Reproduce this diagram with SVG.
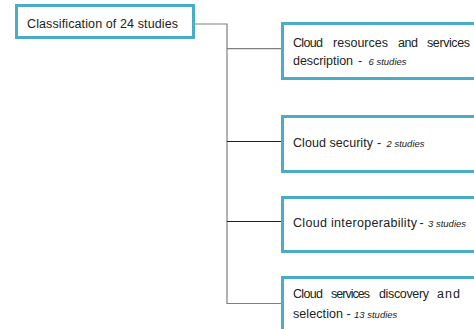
<svg xmlns="http://www.w3.org/2000/svg" width="474" height="329" viewBox="0 0 474 329">
<style>
.box{fill:#fff;stroke:#4BACC6;stroke-width:3}
.t{font-family:"Liberation Sans",Arial,sans-serif;font-size:12.5px;fill:#222}
.i{font-style:italic;font-size:9.5px}
.c{fill:none;stroke:#7f7f7f;stroke-width:1.2}
.d{fill:none;stroke:#222;stroke-width:1}
</style>
<g id="connectors">
<polyline class="c" points="195,24 227,24 227,303.5 281,303.5"/>
<line class="c" x1="227" y1="48.7" x2="281" y2="48.7"/>
<line class="d" x1="227" y1="141.5" x2="281" y2="141.5"/>
<line class="d" x1="227" y1="221.5" x2="281" y2="221.5"/>
</g>
<g id="root">
<rect class="box" x="16.5" y="5.5" width="177" height="32"/>
<text class="t" x="27" y="28" textLength="151">Classification of 24 studies</text>
</g>
<g id="n1">
<rect class="box" x="282.5" y="23.5" width="200" height="55"/>
<text class="t" y="47"><tspan x="293" textLength="30">Cloud</tspan><tspan x="333" textLength="55">resources</tspan><tspan x="398" textLength="20">and</tspan><tspan x="427" textLength="43">services</tspan></text>
<text class="t" y="65"><tspan x="293" textLength="60">description</tspan><tspan x="358">-</tspan><tspan class="i" x="368.5">6 studies</tspan></text>
</g>
<g id="n2">
<rect class="box" x="282.5" y="116.5" width="200" height="55"/>
<text class="t" y="147"><tspan x="293" textLength="80">Cloud security</tspan><tspan x="377">-</tspan><tspan class="i" x="386.5">2 studies</tspan></text>
</g>
<g id="n3">
<rect class="box" x="282.5" y="197.5" width="200" height="54"/>
<text class="t" y="227"><tspan x="293" textLength="124">Cloud interoperability</tspan><tspan x="419.5">-</tspan><tspan class="i" x="428">3 studies</tspan></text>
</g>
<g id="n4">
<rect class="box" x="282.5" y="277.5" width="200" height="60"/>
<text class="t" y="298"><tspan x="293" textLength="30">Cloud</tspan><tspan x="331" textLength="39">services</tspan><tspan x="379" textLength="50">discovery</tspan><tspan x="437" textLength="23">and</tspan></text>
<text class="t" y="318"><tspan x="293" textLength="50">selection</tspan><tspan x="346.5">-</tspan><tspan class="i" x="354">13 studies</tspan></text>
</g>
</svg>
